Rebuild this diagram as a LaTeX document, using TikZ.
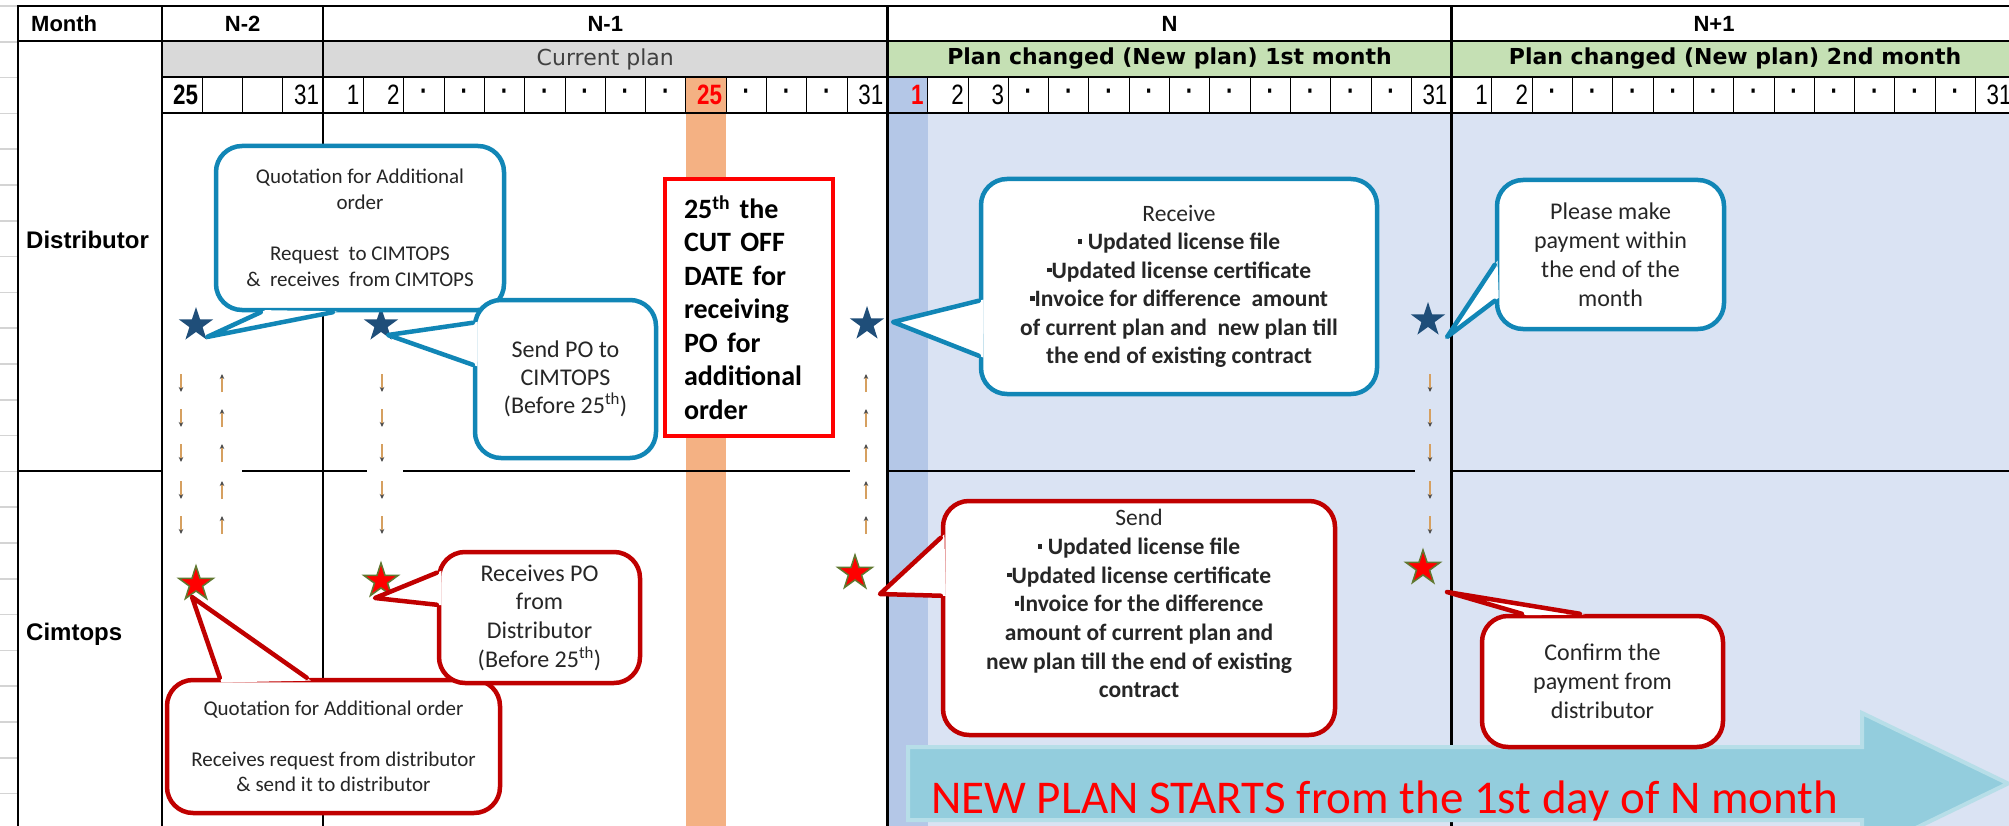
\documentclass[tikz,border=0pt]{standalone}
\usepackage{fontspec}
\setmainfont{Carlito}
\newfontfamily\hdrfont{Liberation Sans}
\newfontfamily\numfont[FakeStretch=0.8]{Liberation Sans}
\newfontfamily\planfont{DejaVu Sans}
\usetikzlibrary{shapes.geometric,arrows.meta,calc}
\definecolor{lavender}{HTML}{DAE3F3}
\definecolor{daystrip}{HTML}{B4C7E7}
\definecolor{cutoff}{HTML}{F4B183}
\definecolor{grayrow}{HTML}{D9D9D9}
\definecolor{greenrow}{HTML}{C5E0B4}
\definecolor{bubblue}{RGB}{17,134,182}
\definecolor{bubred}{HTML}{C00000}
\definecolor{starblue}{HTML}{1F4E79}
\definecolor{stargreen}{RGB}{96,120,48}
\definecolor{shaft}{RGB}{214,160,96}
\definecolor{arrowfill}{HTML}{93CDDD}
\definecolor{arrowedge}{HTML}{B7DEE8}
\definecolor{faint}{HTML}{D4D4D4}
\begin{document}
\begin{tikzpicture}[x=1pt,y=-1pt,line cap=butt,line join=miter,font=\fontsize{21}{25.7}\selectfont]
	\tikzset{declare function={cw=40.3;cx=162;},
		grid/.style={line width=2.5pt,line cap=rect},
		hdr/.style={inner sep=0pt,font=\hdrfont\bfseries\fontsize{22}{26}\selectfont},
		plan/.style={inner sep=0pt,font=\planfont\fontsize{22}{26}\selectfont},
		planB/.style={inner sep=0pt,font=\planfont\bfseries\fontsize{22}{26}\selectfont},
		dayno/.style={anchor=east,inner sep=0pt,font=\numfont\fontsize{28}{30}\selectfont},
		dayB/.style={dayno,font=\numfont\bfseries\fontsize{28}{30}\selectfont},
		rowlab/.style={anchor=west,inner sep=0pt,font=\hdrfont\bfseries\fontsize{24}{28}\selectfont},
		starB/.style={star,star points=5,star point ratio=2.6,minimum size=36pt,inner sep=0pt,fill=starblue},
		starR/.style={starB,fill=red,draw=stargreen,line width=1.5pt},
		flow/.style={draw=shaft,line width=1.3pt,-{Stealth[length=5pt,width=4.5pt,color=black!70]}},
		bub/.style={draw=bubblue,line width=4.5pt,fill=white,rounded corners=26pt,align=center,inner sep=0pt,text=black!85},
		bubR/.style={bub,draw=bubred}}
	\def\bul{\rule[0.25em]{0.2em}{0.2em}}
	\def\bubtail#1#2#3#4{\fill[white] ($#2!-5pt!#4$) -- #4 -- ($#3!-5pt!#4$) -- cycle;
		\draw[#1,line width=4.5pt,line join=round,line cap=round] #2 -- #4 -- #3;}
	\def\arrdn#1{\foreach \y in {383,418,453,490,525} \draw[flow] (#1,{\y-9}) -- (#1,{\y+9});}
	\def\arrup#1{\foreach \y in {383,418,453,490,525} \draw[flow] (#1,{\y+9}) -- (#1,{\y-9});}
	\useasboundingbox (0,0) rectangle (2009,826);
	\clip (0,0) rectangle (2009,826);
	%--------- background
	\fill[white] (0,0) rectangle (2009,826);
	\fill[grayrow] (cx,41) rectangle ({cx+18*cw},77);
	\fill[greenrow] ({cx+18*cw},41) rectangle (2009,77);
	\fill[lavender] ({cx+18*cw},113) rectangle (2009,826);
	\fill[cutoff] ({cx+13*cw},77) rectangle ({cx+14*cw},826);
	\fill[daystrip] ({cx+18*cw},77) rectangle ({cx+19*cw},826);
	\foreach \i in {0,...,22} \draw[faint,line width=1.5pt] (0,{6+35.8*\i}) -- (18,{6+35.8*\i});
	\foreach \k in {1,...,45} \draw[line width=1pt] ({cx+\k*cw},77) -- ({cx+\k*cw},113);
	%--------- grid
	\draw[grid] (18,6) -- (2009,6) (18,41) -- (2009,41) (cx,77) -- (2009,77) (cx,113) -- (2009,113);
	\foreach \x in {18,cx,cx+4*cw,cx+18*cw,cx+32*cw} \draw[grid] ({\x},6) -- ({\x},826);
	\draw[grid] (18,471) -- (cx,471) (243,471) -- (366,471) (404,471) -- (849,471)
		({cx+18*cw},471) -- (1414,471) ({cx+32*cw},471) -- (2009,471);
	%--------- headers
	\node[hdr,anchor=west] (mon) at (31,24) {Month};
	\node[hdr] (n2) at ({cx+2*cw},24) {N-2};
	\node[hdr] (n1) at ({cx+11*cw},24) {N-1};
	\node[hdr] (n0) at ({cx+25*cw},24) {N};
	\node[hdr] (np1) at (1714,24) {N+1};
	\node[plan,text=black!75] (cur) at ({cx+11*cw},59) {Current plan};
	\node[planB] (pc1) at ({cx+25*cw},59) {Plan changed (New plan) 1st month};
	\node[planB] (pc2) at (1735,59) {Plan changed (New plan) 2nd month};
	%--------- days
	\node[dayB] (d0) at ({cx+cw-4},95) {25};
	\node[dayB,text=red] (d13) at ({cx+14*cw-4},95) {25};
	\node[dayB,text=red] (d18) at ({cx+19*cw-4},95) {1};
	\foreach \k/\t in {3/31,4/1,5/2,17/31,19/2,20/3,31/31,32/1,33/2,45/31}
		\node[dayno] (d\k) at ({cx+(\k+1)*cw-4},95) {\t};
	\foreach \k in {6,7,...,12,14,15,16,21,22,...,30,34,35,...,44}
		\node[dayB,anchor=center] (d\k) at ({cx+(\k+0.5)*cw},95) {·};
	\node[rowlab] (dist) at (26,240) {Distributor};
	\node[rowlab] (cim) at (26,634) {Cimtops};
	%--------- stars and arrows
	\node[starB] (st1) at (196,325) {};
	\node[starB] (st2) at (381,325) {};
	\node[starB] (st3) at (867,324) {};
	\node[starB] (st4) at (1428,320) {};
	\node[starR] (sr1) at (196,584) {};
	\node[starR] (sr2) at (381,581) {};
	\node[starR] (sr3) at (855,573) {};
	\node[starR] (sr4) at (1423,568) {};
	\arrdn{181} \arrup{222} \arrdn{382} \arrup{866} \arrdn{1430}
	%--------- new plan arrow
	\filldraw[fill=arrowfill,draw=arrowedge,line width=4pt] (908,747) -- (1862,747) -- (1862,713) -- (2008,783.5)
		-- (1862,854) -- (1862,820) -- (908,820) -- cycle;
	\node[anchor=base west,text=red,inner sep=0pt,font=\fontsize{47}{50}\selectfont] (np) at (931,813) {NEW PLAN STARTS from the 1st day of N month};
	%--------- Distributor
	\node[bub,minimum width=288pt,minimum height=164pt] (q1) at (360,228) {Quotation for Additional\\order\\[25.7pt]Request\ \ to CIMTOPS\\\&\ \ receives\ \ from CIMTOPS};
	\bubtail{bubblue}{([shift={(47,0)}]q1.south west)}{([shift={(119,0)}]q1.south west)}{([shift={(11,12)}]st1.center)}
	\node[bub,minimum width=181pt,minimum height=158pt,font=\fontsize{24}{28}\selectfont] (q2) at (565.5,379) {Send PO to\\CIMTOPS\\(Before 25\textsuperscript{th})};
	\bubtail{bubblue}{([shift={(0,25)}]q2.north west)}{([shift={(0,67)}]q2.north west)}{([shift={(7,10)}]st2.center)}
	\node[draw=red,line width=4.5pt,fill=white,minimum width=168pt,minimum height=257pt,text width=130pt,align=left,inner sep=0pt,
		font=\bfseries\fontsize{28}{33.5}\selectfont] (cut) at (749,307.5) {25\textsuperscript{th} the\\CUT OFF\\DATE for\\receiving\\PO for\\additional\\order};
	\node[bub,minimum width=396pt,minimum height=215pt,font=\fontsize{23.5}{28.5}\selectfont] (q3) at (1179,286.5) {Receive\\\textbf{\bul\ Updated license file}\\\textbf{\bul Updated license certificate}\\\textbf{\bul Invoice for difference\ \ amount}\\\textbf{of current plan and\ \ new plan till}\\\textbf{the end of existing contract}};
	\bubtail{bubblue}{([shift={(0,124)}]q3.north west)}{([shift={(0,179)}]q3.north west)}{([shift={(26,-2)}]st3.center)}
	\node[bub,minimum width=227pt,minimum height=149pt,font=\fontsize{24}{29}\selectfont] (q4) at (1610.5,254.5) {Please make\\payment within\\the end of the\\month};
	\bubtail{bubblue}{([shift={(0,87)}]q4.north west)}{([shift={(0,123)}]q4.north west)}{([shift={(19,17)}]st4.center)}
	%--------- Cimtops
	\node[bubR,minimum width=333pt,minimum height=133pt,font=\fontsize{21}{25.5}\selectfont] (r2) at (333.5,746.5) {Quotation for Additional order\\[25.5pt]Receives request from distributor\\\&\ send it to distributor};
	\bubtail{bubred}{([shift={(55,0)}]r2.north west)}{([shift={(142,0)}]r2.north west)}{([shift={(-4,13)}]sr1.center)}
	\node[bubR,minimum width=201pt,minimum height=131pt,font=\fontsize{24}{28.7}\selectfont] (r1) at (539.5,617.5) {Receives PO\\from\\Distributor\\(Before 25\textsuperscript{th})};
	\bubtail{bubred}{([shift={(0,23)}]r1.north west)}{([shift={(0,55)}]r1.north west)}{([shift={(-6,17)}]sr2.center)}
	\node[bubR,minimum width=392pt,minimum height=234pt,font=\fontsize{23.5}{28.7}\selectfont] (r3) at (1139,618) {Send\\\textbf{\bul\ Updated license file}\\\textbf{\bul Updated license certificate}\\\textbf{\bul Invoice for the difference}\\\textbf{amount of current plan and}\\\textbf{new plan till the end of existing}\\\textbf{contract}\\~};
	\bubtail{bubred}{([shift={(0,39)}]r3.north west)}{([shift={(0,97)}]r3.north west)}{([shift={(25,21)}]sr3.center)}
	\node[bubR,minimum width=241pt,minimum height=131pt,font=\fontsize{24}{29}\selectfont] (r4) at (1602.5,681.5) {Confirm the\\payment from\\distributor};
	\bubtail{bubred}{([shift={(42,0)}]r4.north west)}{([shift={(100,0)}]r4.north west)}{([shift={(24,24)}]sr4.center)}
\end{tikzpicture}
\end{document}
